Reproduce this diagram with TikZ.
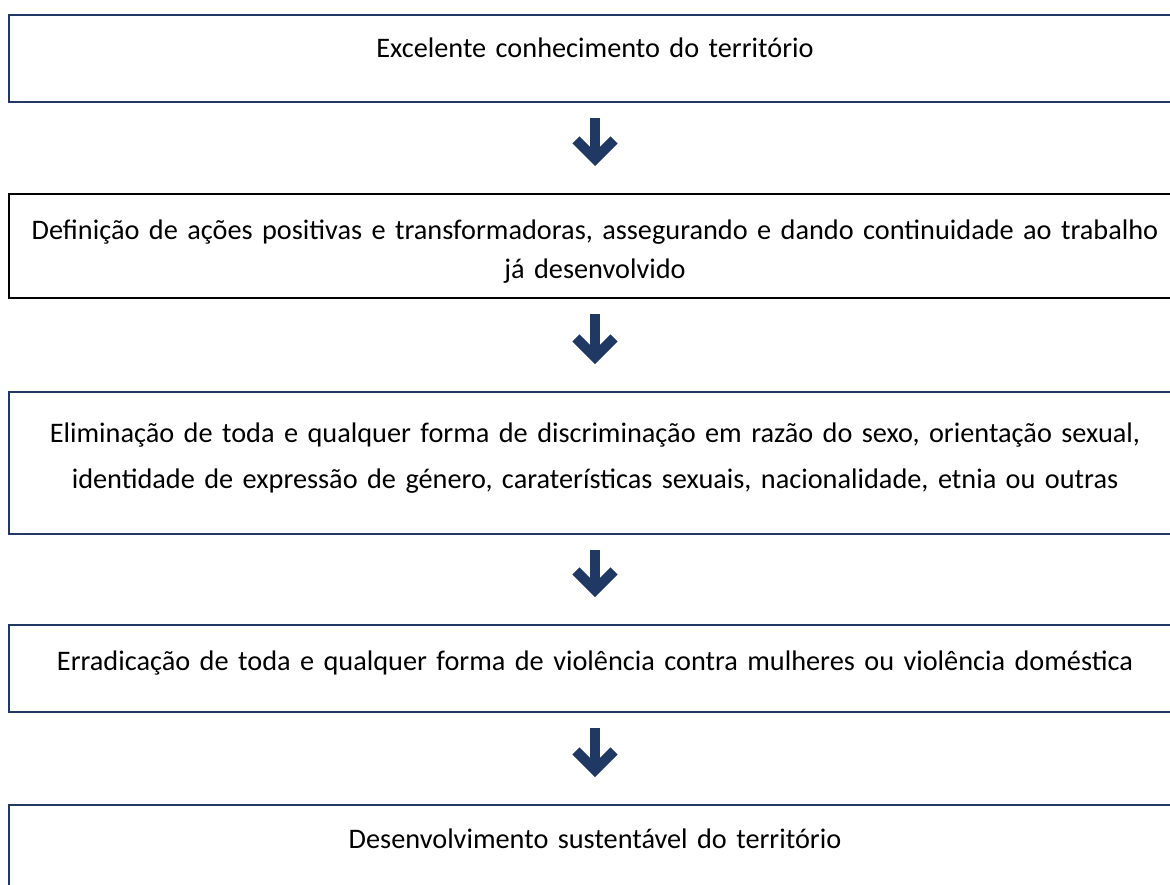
\documentclass[tikz,border=0pt]{standalone}
\usepackage{fontspec}
\setmainfont{Carlito}
\usetikzlibrary{arrows.meta,positioning}
\definecolor{navy}{HTML}{1F3864}
\tikzset{
  stage/.style ={draw=navy,line width=2pt,minimum width=1172pt,inner xsep=0pt,
                 inner ysep=0pt,outer sep=0pt,align=center,text width=1165pt,
                 font=\fontsize{28.3}{39}\selectfont},
  blackstage/.style={stage,draw=black},
  flow/.style  ={-{Straight Barb[length=19pt,width=38pt,line width=10pt]},
                 line width=10pt,draw=navy,shorten <=16pt,shorten >=28pt}
}
\begin{document}
\begin{tikzpicture}[x=1pt,y=-1pt]
  \useasboundingbox (0,0) rectangle (1170,884);
  \node[stage,anchor=north west,text height=42pt,text depth=45pt] (know) at (9,15)
    {Excelente conhecimento do território};
  \node[blackstage,anchor=north west,text height=45pt,text depth=59pt] (act) at (9,194)
    {Definição de ações positivas e transformadoras, assegurando e dando continuidade ao trabalho\\já desenvolvido};
  \node[stage,anchor=north west,text height=50pt,text depth=92pt,
        font=\fontsize{28.3}{46}\selectfont] (discr) at (9,392)
    {Eliminação de toda e qualquer forma de discriminação em razão do sexo, orientação sexual,\\identidade de expressão de género, caraterísticas sexuais, nacionalidade, etnia ou outras};
  \node[stage,anchor=north west,text height=45pt,text depth=42pt] (viol) at (9,625)
    {Erradicação de toda e qualquer forma de violência contra mulheres ou violência doméstica};
  \node[stage,anchor=north west,text height=43pt,text depth=57pt] (devel) at (9,805)
    {Desenvolvimento sustentável do território};
  \draw[flow] (know) -- (act);
  \draw[flow] (act) -- (discr);
  \draw[flow] (discr) -- (viol);
  \draw[flow] (viol) -- (devel);
\end{tikzpicture}
\end{document}
